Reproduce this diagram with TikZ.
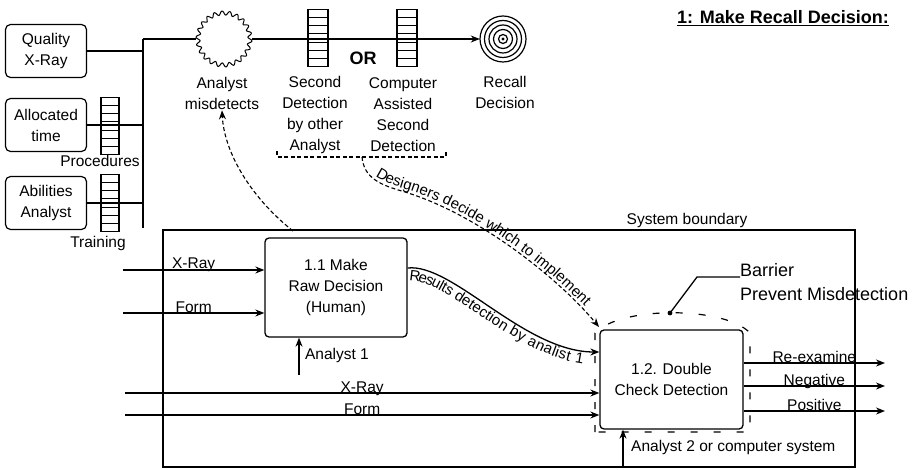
\documentclass[tikz,border=0pt]{standalone}
\usepackage{fontspec}
\setmainfont{Liberation Sans}
\usetikzlibrary{arrows.meta, positioning, calc, decorations.text}

\begin{document}
\begin{tikzpicture}[
  x=1pt, y=-1pt,
  every node/.style={font=\fontsize{15.5}{21}\selectfont},
  src/.style={draw, rounded corners=5pt, line width=1.2pt, align=center,
              minimum width=81pt, minimum height=53pt, inner sep=2pt},
  proc/.style={draw, rounded corners=4pt, line width=1.3pt, align=center,
               minimum width=142pt, minimum height=99pt},
  rack/.style={draw, line width=1.1pt, minimum width=18pt, minimum height=57pt, inner sep=0pt,
    path picture={\foreach \k in {1,...,6}
      \draw[line width=0.9pt] ([yshift=\k*8.14pt]path picture bounding box.south west)
        -- ([yshift=\k*8.14pt]path picture bounding box.south east);}},
  lbl/.style={align=center, inner sep=1pt},
  tag/.style={inner sep=0pt, anchor=base, yshift=1pt},
  arr/.style={-{Stealth[length=9pt, width=7pt]}, line width=1.3pt},
  wire/.style={line width=1.3pt},
  dsh/.style={dashed, line width=1.1pt, dash pattern=on 4pt off 2.5pt}
]
\useasboundingbox (0,0) rectangle (915,470);

% resources feeding the analyst
\node[src] (quality) at (46,51) {Quality\\X-Ray};
\node[src] (alloc) at (46,125) {Allocated\\time};
\node[src] (abil) at (46,203) {Abilities\\Analyst};

\coordinate (trunktop) at (143,39);
\coordinate (trunkbot) at (143,228);
\draw[wire] (trunktop) -- (trunkbot);
\draw[wire] (quality.east) -- (quality.east -| trunktop);
\draw[wire] (alloc.east) -- (alloc.east -| trunktop);
\draw[wire] (abil.east) -- (abil.east -| trunktop);

\node[rack] (procs) at (110,126) {};
\node[lbl] (proclbl) at (100,161) {Procedures};
\node[rack] (train) at (110,203) {};
\node[lbl] (trainlbl) at (98,243) {Training};

% top chain
\node[minimum size=56pt, inner sep=0pt] (misd) at (224,39) {};
\draw[line width=1pt, shift={(misd.center)}]
  plot[domain=0:360, samples=300] ({(26+2*sin(22*\x))*cos(\x)}, {(26+2*sin(22*\x))*sin(\x)});
\node[lbl] (misdlbl) at (222,93) {Analyst\\misdetects};

\node[rack, minimum width=20pt] (second) at (318,38) {};
\node[rack, minimum width=20pt] (computer) at (407,38) {};
\node[circle, minimum size=46pt, inner sep=0pt] (recall) at (503,39) {};
\foreach \r in {23,18.5,14,9.5,4.5}
  \draw[line width=1.2pt] (recall) circle (\r pt);
\fill (recall) circle (1.6pt);

\draw[wire] (trunktop) -- (misd.west);
\draw[arr] (misd.east) -- (recall.west);

\node[font=\bfseries\fontsize{18}{20}\selectfont] (ortxt) at (363,58) {OR};
\node[lbl] (secondlbl) at (315,115) {Second\\Detection\\by other\\Analyst};
\node[lbl] (complbl) at (403,115) {Computer\\Assisted\\Second\\Detection};
\node[lbl] (recalllbl) at (505,92) {Recall\\Decision};

\node[font=\bfseries\fontsize{18}{20}\selectfont] (title) at (783,18) {\underline{1: Make Recall Decision:}};

% choice bracket
\coordinate (brmid) at (362,157);
\draw[dsh] (277,151) -- (277,157) -- (446,157) -- (446,151);

% system boundary
\node[draw, line width=2.4pt, minimum width=692pt, minimum height=237pt, inner sep=0pt] (sysb) at (509,348.5) {};
\node[lbl] (syslbl) at (687,220) {System boundary};

\node[proc] (raw) at (336,287.5) {1.1 Make\\Raw Decision\\(Human)};
\node[proc, minimum width=143pt] (dbl) at (671.5,379.5) {1.2. Double\\Check Detection};

% inputs
\coordinate (xin) at (123,270);
\coordinate (fin) at (123,313);
\draw[arr] (xin) -- (xin -| raw.west) node[tag, midway] {X-Ray};
\draw[arr] (fin) -- (fin -| raw.west) node[tag, midway] {Form};

\coordinate (an1) at (299,375);
\draw[arr] (an1) -- (an1 |- raw.south);
\node[lbl] (an1lbl) at (337,355) {Analyst 1};

\coordinate (xin2) at (125,393);
\coordinate (fin2) at (125,415);
\draw[arr] (xin2) -- (xin2 -| dbl.west) node[tag, midway] {X-Ray};
\draw[arr] (fin2) -- (fin2 -| dbl.west) node[tag, midway] {Form};

% outputs
\foreach \yy/\txt [count=\k] in {363/Re-examine, 386/Negative, 411/Positive}{
  \coordinate (out\k) at (885,\yy);
  \draw[arr] (out\k -| dbl.east) -- (out\k) node[tag, midway] {\txt};
}

\coordinate (an2) at (623,467);
\draw[arr] (an2) -- (an2 |- dbl.south);
\node[lbl, anchor=west] (an2lbl) at (630,447) {Analyst 2 or computer system};

% curved flows
\draw[arr, postaction={decorate, decoration={text along path, raise=-13pt,
    text align={left indent=3pt},
    text={|\fontsize{15}{15}\selectfont|Results detection by analist 1}}}]
  ([yshift=19.5pt]raw.east) .. controls +(45,-5) and +(-75,0) .. ([yshift=27.5pt]dbl.west);

\draw[arr, dsh, postaction={decorate, decoration={text along path, raise=3pt,
    text align={left indent=26pt},
    text={|\fontsize{15}{15}\selectfont|Designers decide which to implement}}}]
  (brmid) .. controls (364,178) and (380,185) .. (405,192)
  .. controls (480,215) and (560,280) .. (599,327);

\coordinate (fbstart) at (293,231);
\draw[arr, dsh] (fbstart) .. controls (248,195) and (224,150) .. (misdlbl.south);

% barrier round 1.2
\draw[line width=1.2pt, dash pattern=on 7pt off 16pt]
  (595,432) -- (595,333) .. controls (620,306) and (725,306) .. (750,333) -- (750,432) -- cycle;
\coordinate (barpt) at (670,313);
\fill (barpt) circle (2.4pt);
\node[font=\fontsize{18}{24}\selectfont, align=left, anchor=west, inner sep=0pt] (barlbl) at (740,282.5)
  {Barrier\\Prevent Misdetection};
\coordinate (barknee) at (697,277);
\draw[wire] (barpt) -- (barknee) -- (barknee -| barlbl.west);
\end{tikzpicture}
\end{document}
